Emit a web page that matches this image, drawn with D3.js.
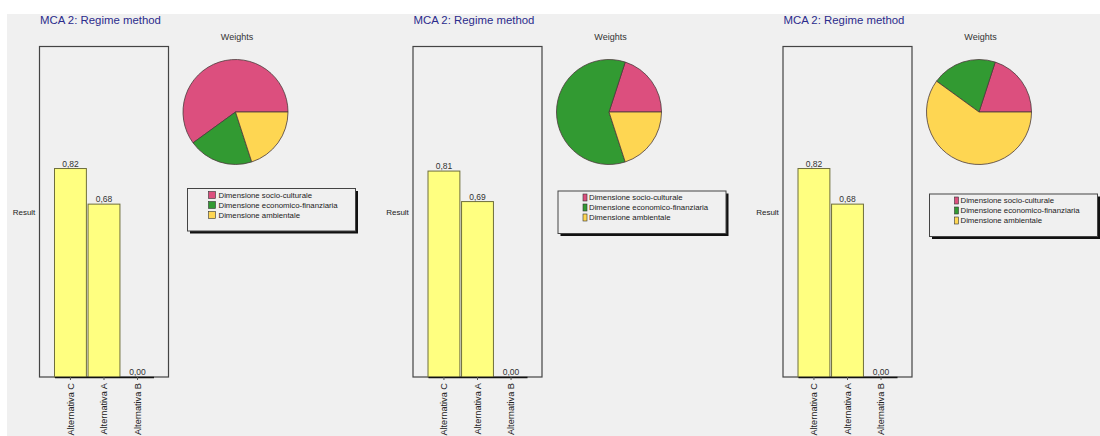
<!DOCTYPE html>
<html>
<head>
<meta charset="utf-8">
<script src="https://cdn.jsdelivr.net/npm/d3@7"></script>
<style>
  body { margin: 0; background: #fff; }
  svg { display: block; font-family: "Liberation Sans", Arial, sans-serif; }
</style>
</head>
<body>
<script>
// data
const panelTitles = ['MCA 2: Regime method', 'MCA 2: Regime method', 'MCA 2: Regime method'];
const alternatives = ['Alternativa C', 'Alternativa A', 'Alternativa B'];
const results1 = [0.82, 0.68, 0.00];
const results2 = [0.81, 0.69, 0.00];
const results3 = [0.82, 0.68, 0.00];
const dimensions = ['Dimensione socio-culturale', 'Dimensione economico-finanziaria', 'Dimensione ambientale'];
const weights1 = [0.6, 0.2, 0.2];
const weights2 = [0.2, 0.6, 0.2];
const weights3 = [0.2, 0.2, 0.6];
const dimColors = ['#dc4f7e', '#329a32', '#fed652'];

const results = [results1, results2, results3];
const weights = [weights1, weights2, weights3];

// layout per panel
const panelX = [0, 373.5, 743.5];
const legendDx = [187.5, 184.5, 186];
const legendY = [188.5, 191, 194];
const swatchW = [7, 4, 4];

const fmt = d3.formatLocale({decimal: ',', thousands: '.', grouping: [3], currency: ['', '']}).format('.2f');

const svg = d3.select('body')
  .append('svg')
  .attr('width', 1100)
  .attr('height', 436);

svg.append('rect')
  .attr('x', 7).attr('y', 14)
  .attr('width', 1093).attr('height', 422)
  .attr('fill', '#f0f0f0');

const frameTop = 46.5, frameBottom = 377, frameW = 129;

const yScale = d3.scaleLinear().domain([0, 1.3]).range([frameBottom, frameTop]);

const pie = d3.pie().sort(null)
  .startAngle(Math.PI / 2)
  .endAngle(Math.PI / 2 - 2 * Math.PI);
const arc = d3.arc().innerRadius(0).outerRadius(52.5);

results.forEach((vals, p) => {
  const g = svg.append('g').attr('transform', `translate(${panelX[p]}, 0)`);
  const left = 39.5;

  g.append('text')
    .attr('x', 40).attr('y', 24)
    .attr('font-size', 11.4)
    .attr('fill', '#2b2b8c')
    .text(panelTitles[p]);

  // bar frame
  g.append('rect')
    .attr('x', left).attr('y', frameTop)
    .attr('width', frameW).attr('height', frameBottom - frameTop)
    .attr('fill', 'none')
    .attr('stroke', '#444')
    .attr('stroke-width', 1.2);

  const xScale = d3.scaleBand()
    .domain(alternatives)
    .range([left + 15, left + frameW - 15])
    .paddingInner(0.05);

  g.selectAll('.bar')
    .data(vals)
    .enter()
    .append('rect')
    .attr('class', 'bar')
    .attr('x', (d, i) => xScale(alternatives[i]))
    .attr('y', d => yScale(d))
    .attr('width', xScale.bandwidth())
    .attr('height', d => frameBottom - yScale(d))
    .attr('fill', '#ffff80')
    .attr('stroke', '#6e6e3c')
    .attr('stroke-width', d => d > 0 ? 1 : 0);

  g.selectAll('.val')
    .data(vals)
    .enter()
    .append('text')
    .attr('x', (d, i) => xScale(alternatives[i]) + xScale.bandwidth() / 2)
    .attr('y', d => yScale(d) - 2)
    .attr('text-anchor', 'middle')
    .attr('font-size', 8.5)
    .attr('fill', '#333')
    .text(d => fmt(d));

  const xAxis = g.append('g')
    .attr('transform', `translate(0, ${frameBottom})`)
    .call(d3.axisBottom(xScale).tickSize(3).tickSizeOuter(0));
  xAxis.select('.domain').attr('stroke', '#111').attr('stroke-width', 1.5);
  xAxis.selectAll('.tick line').attr('stroke', '#555');
  xAxis.selectAll('.tick text')
    .attr('transform', 'rotate(-90)')
    .attr('text-anchor', 'end')
    .attr('x', -6).attr('y', 0).attr('dy', '0.35em')
    .attr('font-size', 9.2)
    .attr('font-family', '"Liberation Sans", Arial, sans-serif')
    .attr('fill', '#222');

  g.append('text')
    .attr('x', 24).attr('y', 212)
    .attr('text-anchor', 'middle')
    .attr('dy', '0.35em')
    .attr('font-size', 8)
    .attr('fill', '#222')
    .text('Result');

  // pie
  const cx = 235.5, cy = 112;
  g.append('text')
    .attr('x', 237).attr('y', 40)
    .attr('text-anchor', 'middle')
    .attr('font-size', 9)
    .attr('fill', '#333')
    .text('Weights');

  g.append('g')
    .attr('transform', `translate(${cx}, ${cy})`)
    .selectAll('path')
    .data(pie(weights[p]))
    .enter()
    .append('path')
    .attr('d', arc)
    .attr('fill', (d, i) => dimColors[i])
    .attr('stroke', '#4a3a3a')
    .attr('stroke-width', 0.8);

  // legend
  const lx = legendDx[p], ly = legendY[p];
  g.append('rect')
    .attr('x', lx + 2.5).attr('y', ly + 2.5)
    .attr('width', 168).attr('height', 42.5)
    .attr('fill', '#111');
  g.append('rect')
    .attr('x', lx).attr('y', ly)
    .attr('width', 168).attr('height', 42.5)
    .attr('fill', '#f0f0f0')
    .attr('stroke', '#444')
    .attr('stroke-width', 1);

  const items = g.selectAll('.leg')
    .data(dimensions)
    .enter()
    .append('g')
    .attr('transform', (d, i) => `translate(${lx + 21}, ${ly + 6.5 + i * 10})`);
  items.append('rect')
    .attr('x', swatchW[p] === 7 ? 0 : 4).attr('y', -3.5)
    .attr('width', swatchW[p]).attr('height', 7)
    .attr('fill', (d, i) => dimColors[i])
    .attr('stroke', '#333')
    .attr('stroke-width', 0.6);
  items.append('text')
    .attr('x', 10).attr('dy', '0.35em')
    .attr('font-size', 7.8)
    .attr('fill', '#222')
    .text(d => d);
});
</script>
</body>
</html>
